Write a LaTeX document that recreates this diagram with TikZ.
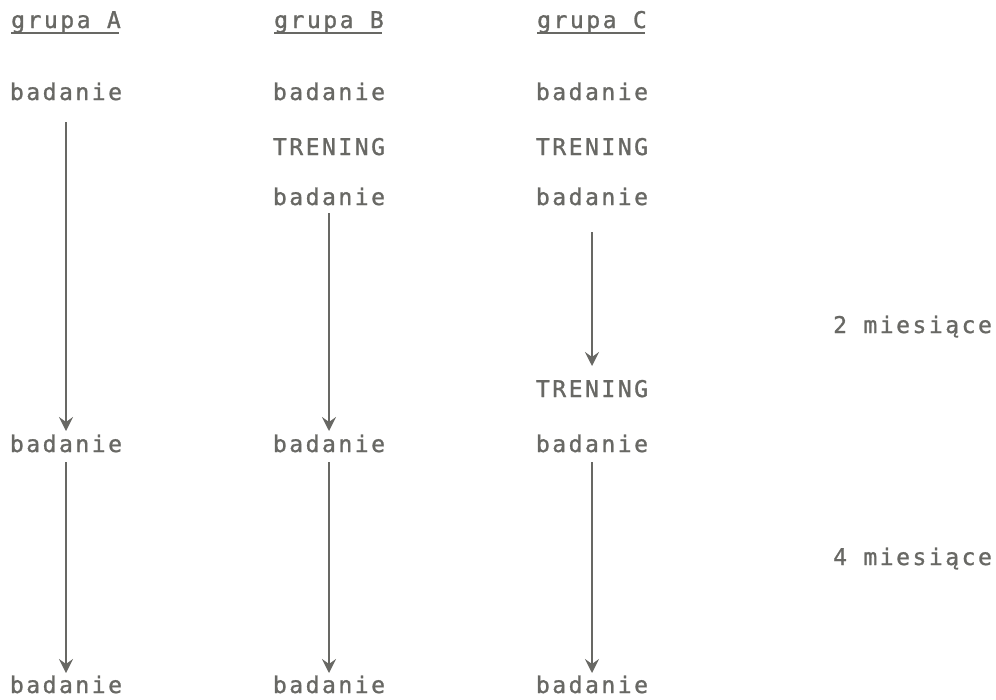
\documentclass[tikz,border=0pt]{standalone}
\usepackage{fontspec}
\usetikzlibrary{arrows.meta,calc}
\newfontfamily\typew[LetterSpace=11,FakeBold=1.2]{DejaVu Sans Mono}
\definecolor{ink}{RGB}{104,104,100}

\begin{document}
\begin{tikzpicture}[x=1pt,y=-1pt,
  lbl/.style={inner sep=0pt,anchor=base,text=ink,font=\typew\fontsize{23}{23}\selectfont},
  side/.style={lbl,anchor=base west},
  arr/.style={draw=ink,line width=1.8pt,-{Stealth[length=14pt,width=14pt,inset=5pt]}},
  uline/.style={draw=ink,line width=2pt}]
\useasboundingbox (0,0) rectangle (996,699);

% column headers
\node[lbl] (hA) at (66,28) {grupa A};
\node[lbl] (hB) at (329,28) {grupa B};
\node[lbl] (hC) at (592,28) {grupa C};
\draw[uline] ($(hA.base west)+(0,5)$) -- ($(hA.base east)+(-2,5)$);
\draw[uline] ($(hB.base west)+(0,5)$) -- ($(hB.base east)+(-2,5)$);
\draw[uline] ($(hC.base west)+(0,5)$) -- ($(hC.base east)+(-2,5)$);

% group A
\node[lbl] (a1) at (66,100) {badanie};
\node[lbl] (a2) at (66,452) {badanie};
\node[lbl] (a3) at (66,693) {badanie};

% group B
\node[lbl] (b1) at (329,100) {badanie};
\node[lbl] (bt) at (329,155) {TRENING};
\node[lbl] (b2) at (329,205) {badanie};
\node[lbl] (b3) at (329,452) {badanie};
\node[lbl] (b4) at (329,693) {badanie};

% group C
\node[lbl] (c1) at (592,100) {badanie};
\node[lbl] (ct1) at (592,155) {TRENING};
\node[lbl] (c2) at (592,205) {badanie};
\node[lbl] (ct2) at (592,397) {TRENING};
\node[lbl] (c3) at (592,452) {badanie};
\node[lbl] (c4) at (592,693) {badanie};

% time intervals
\node[side] (m2) at (833,333) {2 miesiące};
\node[side] (m4) at (833,565) {4 miesiące};

% arrows
\draw[arr] ($(a1.base)+(0,22)$) -- ($(a2.base)+(0,-21)$);
\draw[arr] ($(a2.base)+(0,10)$) -- ($(a3.base)+(0,-20)$);
\draw[arr] ($(b2.base)+(0,8)$) -- ($(b3.base)+(0,-21)$);
\draw[arr] ($(b3.base)+(0,10)$) -- ($(b4.base)+(0,-20)$);
\draw[arr] ($(c2.base)+(0,27)$) -- ($(ct2.base)+(0,-31)$);
\draw[arr] ($(c3.base)+(0,10)$) -- ($(c4.base)+(0,-20)$);
\end{tikzpicture}
\end{document}
